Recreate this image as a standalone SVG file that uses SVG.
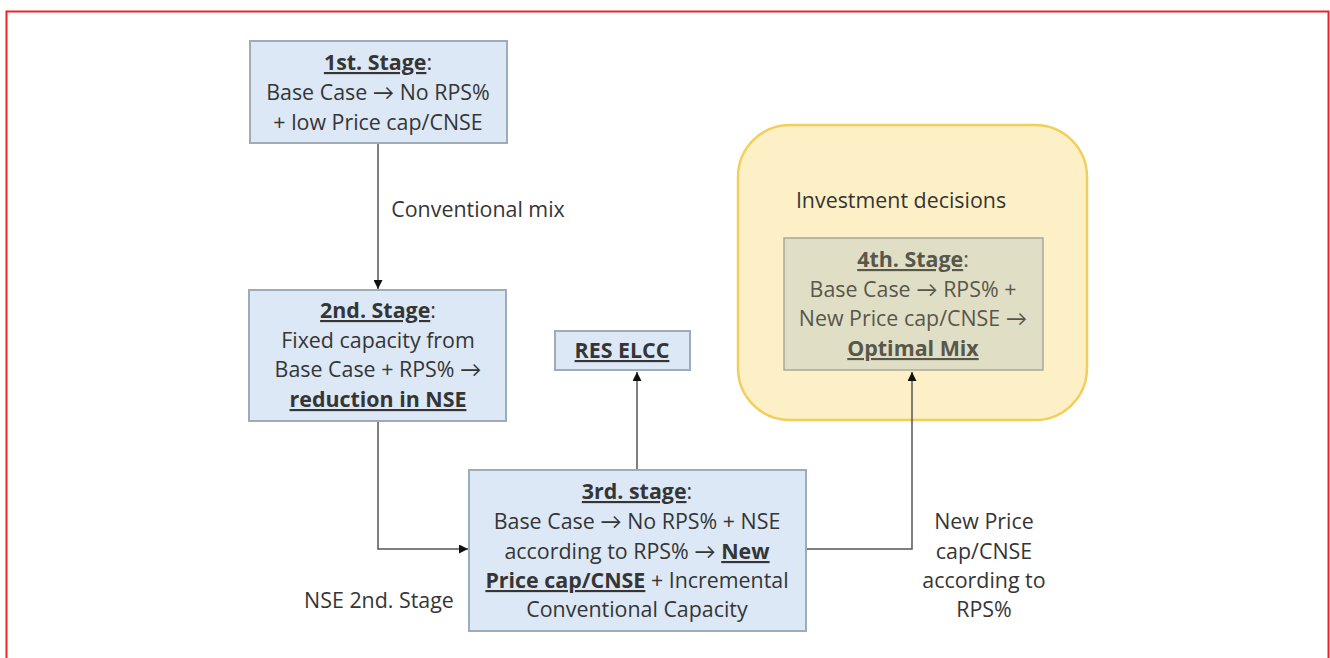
<svg xmlns="http://www.w3.org/2000/svg" width="1330" height="658" viewBox="0 0 1330 658">
<defs>
<style>
text{font-family:"Open Sans",Lato,"Liberation Sans",sans-serif;font-size:21.4px;fill:#353535;text-anchor:middle}
.u{text-decoration:underline;font-weight:bold}
.box{fill:#dce8f5;stroke:#9eacba;stroke-width:2}
.c{fill:none;stroke:#555;stroke-width:1.5}
.s4{fill:#57574a}
</style>
<marker id="ah" viewBox="0 0 10 10" refX="10" refY="5" markerWidth="9" markerHeight="9" markerUnits="userSpaceOnUse" orient="auto">
<path d="M0,0 L10,5 L0,10 z" fill="#111"/>
</marker>
</defs>
<rect x="0" y="0" width="1330" height="658" fill="#fff"/>
<path d="M6.5,658 V11.5 H1328.5 V658" fill="none" stroke="#e8262a" stroke-width="2"/>

<g id="investment">
<rect x="738" y="125" width="349" height="295" rx="52" fill="#fdf0c6" stroke="#f2cf5c" stroke-width="2.5"/>
<text x="901" y="208">Investment decisions</text>
</g>

<g id="connectors">
<path class="c" d="M378,143 V289" marker-end="url(#ah)"/>
<path class="c" d="M378,421 V549 H468" marker-end="url(#ah)"/>
<path class="c" d="M637,470 V372" marker-end="url(#ah)"/>
<path class="c" d="M806,549 H912 V372" marker-end="url(#ah)"/>
<text x="478" y="217">Conventional mix</text>
<text x="379" y="608">NSE 2nd. Stage</text>
<text x="984" y="529">New Price</text>
<text x="984" y="559">cap/CNSE</text>
<text x="984" y="588">according to</text>
<text x="984" y="617">RPS%</text>
</g>

<g id="stage1">
<rect class="box" x="250" y="41" width="257" height="102"/>
<text x="378" y="70"><tspan class="u">1st. Stage</tspan>:</text>
<text x="378" y="100">Base Case → No RPS%</text>
<text x="378" y="130">+ low Price cap/CNSE</text>
</g>

<g id="stage2">
<rect class="box" x="249" y="290" width="257" height="131"/>
<text x="378" y="318"><tspan class="u">2nd. Stage</tspan>:</text>
<text x="378" y="348">Fixed capacity from</text>
<text x="378" y="377">Base Case + RPS% →</text>
<text x="378" y="407"><tspan class="u">reduction in NSE</tspan></text>
</g>

<g id="reselcc">
<rect class="box" x="555" y="331" width="135" height="39"/>
<text x="622" y="358"><tspan class="u">RES ELCC</tspan></text>
</g>

<g id="stage3">
<rect class="box" x="469" y="470" width="337" height="161"/>
<text x="637" y="499"><tspan class="u">3rd. stage</tspan>:</text>
<text x="637" y="529">Base Case → No RPS% + NSE</text>
<text x="637" y="559">according to RPS% → <tspan class="u">New</tspan></text>
<text x="637" y="588"><tspan class="u">Price cap/CNSE</tspan> + Incremental</text>
<text x="637" y="617">Conventional Capacity</text>
</g>

<g id="stage4">
<rect x="784" y="238" width="259" height="132" fill="#e1dec6" stroke="#a9a89a" stroke-width="1.5"/>
<text class="s4" x="913" y="267"><tspan class="u">4th. Stage</tspan>:</text>
<text class="s4" x="913" y="297">Base Case → RPS% +</text>
<text class="s4" x="913" y="326">New Price cap/CNSE →</text>
<text class="s4" x="913" y="356"><tspan class="u">Optimal Mix</tspan></text>
</g>
</svg>
